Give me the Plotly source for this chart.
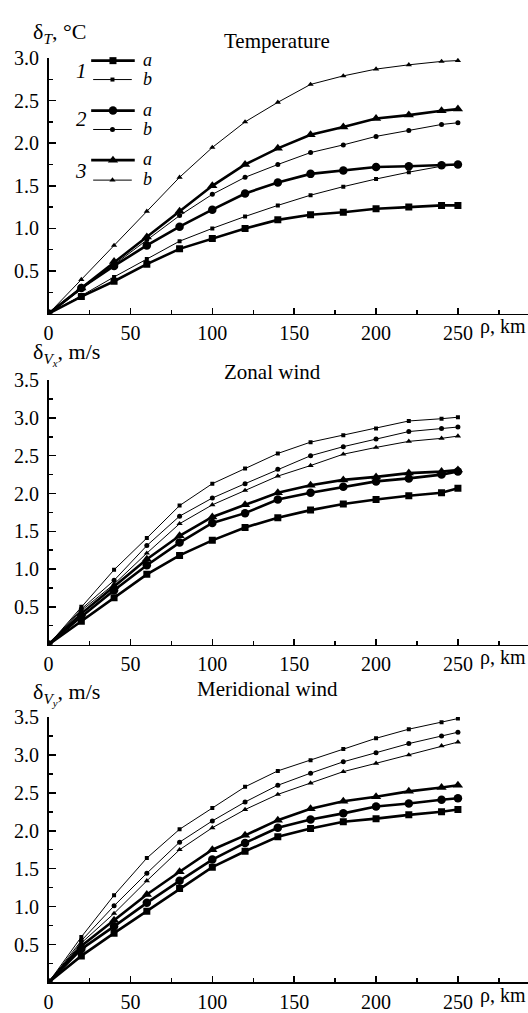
import plotly.graph_objects as go

W, H = 528, 1013
FONT = "Liberation Serif, Times New Roman, DejaVu Serif, serif"
FS = 20

# ---------------- data ----------------
rho = [0, 20, 40, 60, 80, 100, 120, 140, 160, 180, 200, 220, 240, 250]

temp_1a = [0, 0.20, 0.38, 0.58, 0.76, 0.88, 1.00, 1.10, 1.16, 1.19, 1.23, 1.25, 1.27, 1.27]
temp_1b = [0, 0.21, 0.43, 0.64, 0.85, 1.00, 1.14, 1.27, 1.39, 1.49, 1.58, 1.66, 1.73, 1.75]
temp_2a = [0, 0.30, 0.56, 0.80, 1.02, 1.22, 1.41, 1.54, 1.64, 1.68, 1.72, 1.73, 1.74, 1.75]
temp_2b = [0, 0.29, 0.58, 0.87, 1.15, 1.40, 1.60, 1.75, 1.89, 1.98, 2.08, 2.15, 2.22, 2.24]
temp_3a = [0, 0.30, 0.61, 0.90, 1.20, 1.50, 1.75, 1.94, 2.10, 2.19, 2.29, 2.33, 2.38, 2.40]
temp_3b = [0, 0.40, 0.80, 1.20, 1.60, 1.95, 2.25, 2.48, 2.69, 2.79, 2.87, 2.92, 2.96, 2.97]

zon_1a = [0, 0.31, 0.62, 0.93, 1.18, 1.38, 1.55, 1.68, 1.78, 1.86, 1.92, 1.97, 2.01, 2.07]
zon_1b = [0, 0.50, 0.99, 1.41, 1.84, 2.13, 2.33, 2.53, 2.68, 2.77, 2.86, 2.96, 2.99, 3.01]
zon_2a = [0, 0.37, 0.72, 1.05, 1.35, 1.61, 1.74, 1.92, 2.01, 2.09, 2.16, 2.20, 2.25, 2.29]
zon_2b = [0, 0.47, 0.85, 1.31, 1.70, 1.94, 2.13, 2.32, 2.50, 2.62, 2.72, 2.82, 2.86, 2.88]
zon_3a = [0, 0.41, 0.77, 1.13, 1.44, 1.69, 1.85, 2.01, 2.11, 2.18, 2.22, 2.27, 2.29, 2.31]
zon_3b = [0, 0.45, 0.80, 1.21, 1.60, 1.85, 2.04, 2.23, 2.37, 2.52, 2.61, 2.69, 2.73, 2.76]

mer_1a = [0, 0.35, 0.65, 0.94, 1.24, 1.52, 1.73, 1.92, 2.03, 2.12, 2.16, 2.21, 2.25, 2.28]
mer_1b = [0, 0.60, 1.15, 1.64, 2.02, 2.30, 2.58, 2.79, 2.93, 3.08, 3.22, 3.34, 3.43, 3.48]
mer_2a = [0, 0.44, 0.74, 1.05, 1.34, 1.62, 1.84, 2.04, 2.15, 2.23, 2.32, 2.36, 2.41, 2.43]
mer_2b = [0, 0.55, 1.01, 1.44, 1.85, 2.13, 2.38, 2.60, 2.76, 2.91, 3.03, 3.15, 3.25, 3.30]
mer_3a = [0, 0.48, 0.82, 1.16, 1.46, 1.75, 1.94, 2.14, 2.29, 2.39, 2.45, 2.52, 2.57, 2.60]
mer_3b = [0, 0.52, 0.91, 1.34, 1.75, 2.04, 2.28, 2.48, 2.63, 2.78, 2.89, 3.00, 3.12, 3.17]

panel_titles = ["Temperature", "Zonal wind", "Meridional wind"]
y_titles = ["δ<sub><i>T</i></sub>, °C", "δ<sub><i>V<sub>x</sub></i></sub>, m/s", "δ<sub><i>V<sub>y</sub></i></sub>, m/s"]
x_ticks = [0, 50, 100, 150, 200, 250]
x_minor = [25, 75, 125, 175, 225, 275]
group_labels = ["1", "2", "3"]
variant_labels = ["a", "b"]

panels = [
    [temp_1a, temp_1b, temp_2a, temp_2b, temp_3a, temp_3b],
    [zon_1a, zon_1b, zon_2a, zon_2b, zon_3a, zon_3b],
    [mer_1a, mer_1b, mer_2a, mer_2b, mer_3a, mer_3b],
]
y_max = [3.0, 3.5, 3.5]

# ---------------- styles ----------------
symbols = ["square", "circle", "triangle-up"]
thick = dict(width=2.6, sizes=[7, 8.5, 9])
thin = dict(width=1.0, sizes=[4, 5, 5.5])

# pixel geometry of the panels (top, bottom)
panel_px = [(48, 309), (377, 647), (721, 992)]
x_left = 44
x_range = [0, (W - x_left) / 1.653]


def ydom(top, bottom):
    return [1 - bottom / H, 1 - top / H]


fig = go.Figure()

for p, series in enumerate(panels):
    xa = "x" if p == 0 else f"x{p+1}"
    ya = "y" if p == 0 else f"y{p+1}"
    for g in range(3):
        for v in range(2):
            st = thick if v == 0 else thin
            fig.add_trace(go.Scatter(
                x=rho, y=series[2 * g + v], xaxis=xa, yaxis=ya,
                mode="lines+markers",
                line=dict(color="black", width=st["width"]),
                marker=dict(symbol=symbols[g], size=st["sizes"][g], color="black",
                            line=dict(width=0)),
                showlegend=False, hoverinfo="skip",
                name=f"{group_labels[g]}{variant_labels[v]}",
            ))

axis_common = dict(
    showline=True, linecolor="black", linewidth=1.6,
    ticks="inside", tickcolor="black", tickwidth=1.5,
    showgrid=False, zeroline=False,
    tickfont=dict(family=FONT, size=FS, color="black"),
)

for p in range(3):
    sfx = "" if p == 0 else str(p + 1)
    top, bot = panel_px[p]
    yt = [round(0.5 * k, 1) for k in range(1, int(y_max[p] / 0.5) + 1)]
    ym = [round(0.25 + 0.5 * k, 2) for k in range(int(y_max[p] / 0.5))]
    fig.update_layout(**{
        f"xaxis{sfx}": dict(
            axis_common, domain=[x_left / W, 1], range=x_range,
            anchor=f"y{sfx}", tickvals=x_ticks, ticklen=6,
            minor=dict(tickvals=x_minor, ticks="inside", ticklen=4,
                       tickwidth=1.5, tickcolor="black"),
            ticklabelstandoff=1,
        ),
        f"yaxis{sfx}": dict(
            axis_common, domain=ydom(top, bot), range=[0, y_max[p]],
            anchor=f"x{sfx}", tickvals=yt, ticktext=[f"{t:.1f}" for t in yt],
            ticklen=7,
            minor=dict(tickvals=ym, ticks="inside", ticklen=4,
                       tickwidth=1.5, tickcolor="black"),
            ticklabelstandoff=4,
        ),
    })

annotations = []
title_pos = [(275, 31), (270, 369), (265, 692)]
ytitle_pos = [(26, 22), (26, 350), (26, 697)]
for p in range(3):
    tx, ty = title_pos[p]
    annotations.append(dict(text=panel_titles[p], x=tx / W, y=1 - ty / H, xref="paper", yref="paper",
                            xanchor="center", yanchor="middle", showarrow=False,
                            font=dict(family=FONT, size=FS + 1, color="black")))
    ax, ay = ytitle_pos[p]
    annotations.append(dict(text=y_titles[p], x=ax / W, y=1 - ay / H, xref="paper", yref="paper",
                            xanchor="left", yanchor="middle", showarrow=False,
                            font=dict(family=FONT, size=FS + 2, color="black")))
    bot = panel_px[p][1]
    annotations.append(dict(text="ρ, km", x=1.0, y=1 - (bot + 13) / H, xref="paper", yref="paper",
                            xanchor="right", yanchor="middle", showarrow=False,
                            font=dict(family=FONT, size=FS, color="black")))

# ---------------- hand-drawn legend (top panel) ----------------
leg_a_y = [50.7, 101.7, 152.3]
leg_b_y = [70, 121, 172.7]
leg_num_y = [61, 110, 163]
shapes = []
for g in range(3):
    for v, yy in enumerate([leg_a_y[g], leg_b_y[g]]):
        st = thick if v == 0 else thin
        x0, x1 = (87, 131) if v == 0 else (89, 128)
        shapes.append(dict(type="line", xref="paper", yref="paper",
                           x0=x0 / W, x1=x1 / W, y0=1 - yy / H, y1=1 - yy / H,
                           line=dict(color="black", width=st["width"])))
        fig.add_trace(go.Scatter(
            x=[(x0 + x1) / 2], y=[yy], xaxis="x4", yaxis="y4", mode="markers",
            marker=dict(symbol=symbols[g], size=st["sizes"][g], color="black", line=dict(width=0)),
            showlegend=False, hoverinfo="skip"))
        annotations.append(dict(text=f"<i>{variant_labels[v]}</i>", x=137 / W, y=1 - (yy - 1) / H,
                                xref="paper", yref="paper", xanchor="left", yanchor="middle",
                                showarrow=False, font=dict(family=FONT, size=18, color="black")))
    annotations.append(dict(text=f"<i>{group_labels[g]}</i>", x=77 / W, y=1 - leg_num_y[g] / H,
                            xref="paper", yref="paper", xanchor="center", yanchor="middle",
                            showarrow=False, font=dict(family=FONT, size=FS + 1, color="black")))

fig.update_layout(
    xaxis4=dict(domain=[0, 1], range=[0, W], visible=False, anchor="y4", fixedrange=True),
    yaxis4=dict(domain=[0, 1], range=[H, 0], visible=False, anchor="x4", fixedrange=True),
)

fig.update_layout(
    width=W, height=H,
    margin=dict(l=0, r=0, t=0, b=0),
    paper_bgcolor="white", plot_bgcolor="rgba(0,0,0,0)",
    annotations=annotations, shapes=shapes,
    showlegend=False,
    font=dict(family=FONT, size=FS, color="black"),
)

fig.write_html(
    "out.html",
    config={"displayModeBar": False, "staticPlot": True},
    post_script="document.body.style.margin='0';document.body.style.padding='0';"
                "document.body.style.overflow='hidden';",
)
